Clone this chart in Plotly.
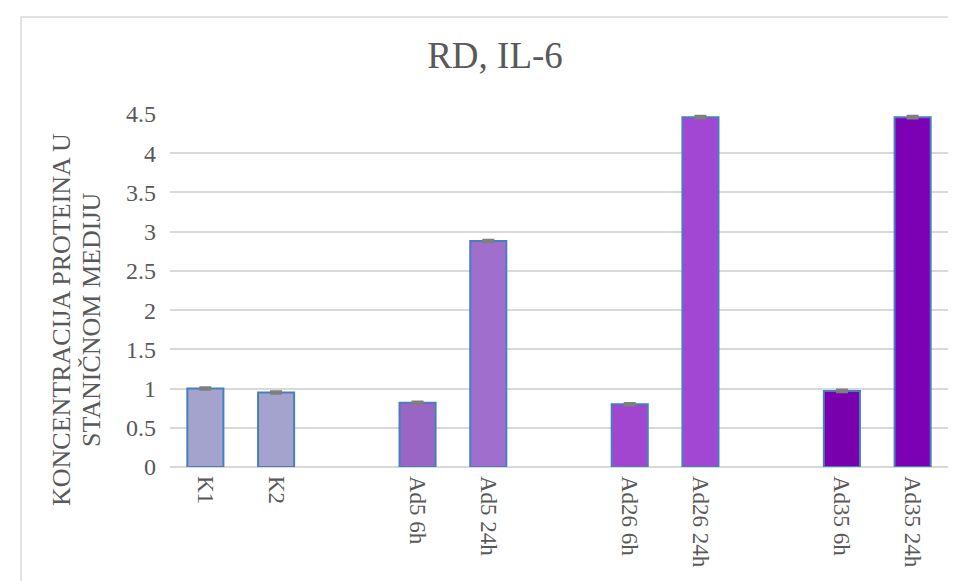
import plotly.graph_objects as go

# ---- data ----
categories = ["K1", "K2", "Ad5 6h", "Ad5 24h", "Ad26 6h", "Ad26 24h", "Ad35 6h", "Ad35 24h"]
values = [1.0, 0.95, 0.82, 2.88, 0.80, 4.46, 0.97, 4.46]
errors = [0.01, 0.01, 0.01, 0.01, 0.01, 0.01, 0.01, 0.01]
group_of = [0, 0, 1, 1, 2, 2, 3, 3]
title_text = "RD, IL-6"
y_title_lines = ["KONCENTRACIJA PROTEINA U", "STANIČNOM MEDIJU"]
y_ticks = [0, 0.5, 1, 1.5, 2, 2.5, 3, 3.5, 4, 4.5]

# ---- style ----
bar_colors = ["#a4a3cd", "#a4a3cd", "#9a66c6", "#a06fcd", "#a246d0", "#a247d3", "#7800ad", "#7c00b4"]
GREY = "#595959"
FONT = "Liberation Serif"

# positions: two bars per group, one empty slot between groups
xpos = []
count = {}
for g in group_of:
    k = count.get(g, 0)
    xpos.append(g * 3 + k)
    count[g] = k + 1

fig = go.Figure()
fig.add_trace(go.Bar(
    x=xpos, y=values, width=0.51,
    marker=dict(color=bar_colors, line=dict(color="#4a7ebb", width=2)),
    error_y=dict(type="data", array=errors, visible=True, color="#7f7f7f", thickness=3, width=6),
    showlegend=False,
))

W, H = 956, 581
L, R, T, B = 162, 16, 106, 122
pw, ph = W - L - R, H - T - B

def px_x(p):
    return (p - L) / pw

def px_y(p):
    return (H - B - p) / ph

fig.add_shape(type="rect", xref="paper", yref="paper",
              x0=px_x(13), x1=px_x(W + 10), y0=px_y(9), y1=px_y(H + 10),
              line=dict(color="#d9d9d9", width=1.5), fillcolor="rgba(0,0,0,0)", layer="below")

for i, line in enumerate(y_title_lines):
    fig.add_annotation(text=line, xref="paper", yref="paper",
                       x=px_x(53 + 30 * i), y=px_y(312), xanchor="center", yanchor="middle",
                       textangle=-90, showarrow=False, align="center",
                       font=dict(family=FONT, size=26, color=GREY))

fig.update_layout(
    width=W, height=H,
    margin=dict(l=L, r=R, t=T, b=B, autoexpand=False),
    paper_bgcolor="white", plot_bgcolor="white",
    title=dict(text=title_text, x=487 / W, xref="container", xanchor="center",
               y=1 - 47 / H, yref="container", yanchor="middle",
               font=dict(family=FONT, size=37, color=GREY)),
    font=dict(family=FONT, color=GREY),
)
fig.update_xaxes(
    range=[-0.5, 10.5], tickmode="array", tickvals=xpos, ticktext=categories,
    tickangle=90, tickfont=dict(family=FONT, size=23, color=GREY),
    showgrid=False, showline=False, zeroline=False, ticks="", ticklabelstandoff=8,
    automargin=False,
)
fig.update_yaxes(
    range=[0, 4.5], tickmode="array", tickvals=y_ticks,
    ticktext=[f"{v:g}" for v in y_ticks],
    tickfont=dict(family=FONT, size=24, color=GREY),
    showgrid=True, gridcolor="#d9d9d9", gridwidth=1.5,
    zeroline=True, zerolinecolor="#d9d9d9", zerolinewidth=1.5,
    showline=False, ticks="", ticklabelstandoff=13, automargin=False,
)

fig.write_html("out.html")
